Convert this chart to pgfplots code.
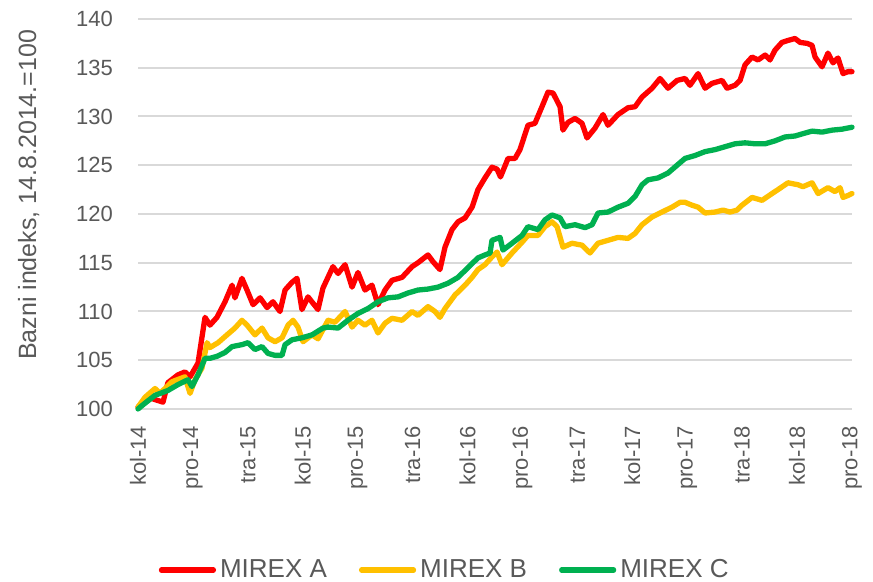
\documentclass[border=0pt]{standalone}
\usepackage{pgfplots}
\pgfplotsset{compat=1.18}
\usepackage{fontspec}
\setmainfont{Liberation Sans}
\definecolor{mA}{HTML}{FF0000}
\definecolor{mB}{HTML}{FFC000}
\definecolor{mC}{HTML}{00B050}
\definecolor{txt}{HTML}{595959}
\definecolor{grd}{HTML}{D9D9D9}
\begin{document}
\begin{tikzpicture}
\useasboundingbox (0,0) rectangle (436.5pt,291pt);
\begin{axis}[
  at={(69pt,86.5pt)}, anchor=south west,
  width=357pt, height=195pt, scale only axis,
  xmin=0, xmax=52, ymin=100, ymax=140,
  ytick={100,105,...,140},
  xtick={0,4,...,52},
  xticklabels={kol-14,pro-14,tra-15,kol-15,pro-15,tra-16,kol-16,pro-16,tra-17,kol-17,pro-17,tra-18,kol-18,pro-18},
  axis line style={draw=none},
  major tick length=0pt,
  ymajorgrids, grid style={grd, line width=1pt},
  tick label style={font=\fontsize{11}{13}\selectfont, text=txt},
  /pgf/number format/assume math mode=true,
  yticklabel style={anchor=east, xshift=-9pt},
  xticklabel style={rotate=90, anchor=east},
  xticklabel shift=5pt,
  ylabel={Bazni indeks, 14.8.2014.=100},
  ylabel style={at={(axis description cs:-0.153,0.549)}, anchor=center, font=\fontsize{12.5}{15}\selectfont, text=txt},
  clip=false,
  legend columns=3,
  legend style={at={(axis description cs:0.431,-0.413)}, anchor=center, draw=none, fill=none,
    font=\fontsize{13}{15}\selectfont, text=txt,
    /tikz/every even column/.append style={column sep=14pt}},
  legend image code/.code={\draw[#1, line width=2.6pt, line cap=round] (0pt,0pt) -- (26pt,0pt);},
  every axis plot/.append style={line width=2.65pt, line join=round, line cap=round},
]
\addplot[mA] coordinates {
(0,100.2)(0.73,101.2)(1.82,100.7)(2.18,102.7)(2.91,103.5)(3.42,103.8)(3.79,103.3)(4.37,104.7)
(4.88,109.4)(5.24,108.6)(5.75,109.4)(6.34,111)(6.85,112.7)(7.06,111.4)(7.57,113.4)(7.94,112.2)
(8.38,110.7)(8.89,111.4)(9.40,110.4)(9.83,111)(10.34,110)(10.71,112.2)(11.22,113)(11.58,113.4)
(11.94,110.2)(12.38,111.5)(13.11,110.2)(13.47,112.4)(14.20,114.6)(14.57,113.9)(15.08,114.8)
(15.59,112.5)(16.02,114)(16.53,112.2)(17.04,112.7)(17.48,110.7)(17.99,112.2)(18.50,113.2)
(19.23,113.5)(19.96,114.6)(20.39,115)(21.12,115.8)(21.49,115.1)(21.99,114.3)(22.36,116.6)
(22.87,118.4)(23.31,119.2)(23.82,119.6)(24.33,120.7)(24.76,122.5)(25.27,123.7)(25.78,124.8)
(26.15,124.6)(26.40,123.8)(26.95,125.7)(27.46,125.7)(27.82,126.6)(28.40,129.1)(28.91,129.3)
(29.42,131)(29.86,132.5)(30.23,132.4)(30.74,131)(30.95,128.6)(31.32,129.4)(31.83,129.8)
(32.34,129.3)(32.70,127.8)(33.28,128.8)(33.87,130.2)(34.23,129.1)(34.96,130.2)(35.69,130.9)
(36.20,131)(36.71,132)(37.44,132.9)(38.02,133.9)(38.60,132.9)(39.26,133.7)(39.84,133.9)
(40.20,133.2)(40.79,134.4)(41.30,132.9)(41.81,133.4)(42.54,133.7)(42.90,132.9)(43.48,133.2)
(43.85,133.7)(44.21,135.3)(44.72,136.1)(45.16,135.8)(45.67,136.3)(46.03,135.8)(46.39,136.8)
(46.90,137.6)(47.34,137.8)(47.85,138)(48.22,137.6)(48.73,137.5)(49.09,137.3)(49.31,136.1)
(49.82,135.1)(50.25,136.5)(50.62,135.5)(50.98,136)(51.35,134.4)(51.71,134.6)(52,134.6)
};
\addlegendentry{MIREX A}
\addplot[mB] coordinates {
(0,100.2)(0.51,101.2)(1.24,102.1)(1.60,101.6)(2.48,102.8)(3.42,103.3)(3.79,101.6)(4.15,103)
(4.66,104.2)(5.03,106.8)(5.24,106.3)(5.83,106.8)(6.48,107.6)(7.06,108.3)(7.57,109.1)(7.94,108.6)
(8.52,107.6)(9.03,108.3)(9.47,107.3)(9.98,106.9)(10.49,107.3)(10.93,108.6)(11.29,109.1)
(11.65,108.4)(12.02,106.9)(12.67,107.6)(13.11,107.2)(13.84,109.1)(14.35,108.9)(15.08,110)
(15.59,108.4)(16.02,109.1)(16.53,108.6)(17.04,109.1)(17.48,107.8)(17.99,108.8)(18.50,109.3)
(19.23,109.1)(19.96,110)(20.39,109.6)(21.12,110.5)(21.63,110)(21.99,109.4)(22.36,110.3)
(23.09,111.7)(23.82,112.7)(24.33,113.5)(24.76,114.3)(25.27,114.8)(25.78,115.6)(26.15,116.1)
(26.51,114.8)(27.24,116)(27.97,117.1)(28.40,117.8)(29.13,117.8)(29.64,118.7)(30.15,119.2)
(30.52,118.7)(30.95,116.6)(31.61,117)(32.34,116.8)(32.92,116)(33.50,117)(34.23,117.3)
(34.96,117.6)(35.69,117.5)(36.20,118)(36.71,118.9)(37.44,119.7)(38.16,120.2)(38.89,120.7)
(39.48,121.2)(39.84,121.2)(40.35,120.9)(40.79,120.7)(41.30,120.1)(42.02,120.2)(42.61,120.4)
(43.12,120.2)(43.63,120.4)(43.99,120.9)(44.72,121.7)(45.45,121.4)(46.18,122.1)(46.61,122.5)
(47.34,123.2)(48.07,123)(48.43,122.8)(49.09,123.2)(49.53,122.1)(50.25,122.7)(50.76,122.3)
(51.13,122.7)(51.35,121.7)(51.71,121.9)(52,122.1)
};
\addlegendentry{MIREX B}
\addplot[mC] coordinates {
(0,100)(0.51,100.6)(1.24,101.4)(2.18,101.9)(2.91,102.5)(3.64,103)(3.93,102.3)(4.37,103.5)
(4.88,105.2)(5.24,105.2)(5.75,105.4)(6.34,105.8)(6.85,106.4)(7.57,106.6)(8.01,106.8)(8.52,106.1)
(9.03,106.4)(9.47,105.7)(9.98,105.5)(10.49,105.5)(10.71,106.6)(11.22,107.1)(11.94,107.3)
(12.67,107.6)(13.47,108.3)(13.84,108.4)(14.57,108.3)(15.29,109.1)(16.02,109.8)(16.75,110.3)
(17.48,111)(18.21,111.4)(18.94,111.5)(19.67,111.9)(20.39,112.2)(21.12,112.3)(21.85,112.5)
(22.58,112.9)(23.31,113.5)(24.03,114.5)(24.76,115.5)(25.27,115.8)(25.64,116)(25.78,117.3)
(26.37,117.6)(26.58,116.3)(27.24,117)(27.97,117.8)(28.40,118.7)(29.13,118.4)(29.64,119.4)
(30.15,119.9)(30.74,119.6)(31.10,118.7)(31.83,118.9)(32.56,118.6)(33.07,118.9)(33.50,120.1)
(34.23,120.2)(34.96,120.7)(35.69,121.1)(36.20,121.8)(36.71,123)(37.14,123.5)(37.87,123.7)
(38.60,124.2)(39.26,125)(39.84,125.7)(40.57,126)(41.30,126.4)(42.02,126.6)(42.75,126.9)
(43.48,127.2)(44.21,127.3)(44.94,127.2)(45.67,127.2)(46.39,127.5)(47.12,127.9)(47.85,128)
(48.58,128.3)(49.09,128.5)(49.82,128.4)(50.55,128.6)(51.27,128.7)(52,128.9)
};
\addlegendentry{MIREX C}
\end{axis}
\end{tikzpicture}
\end{document}
